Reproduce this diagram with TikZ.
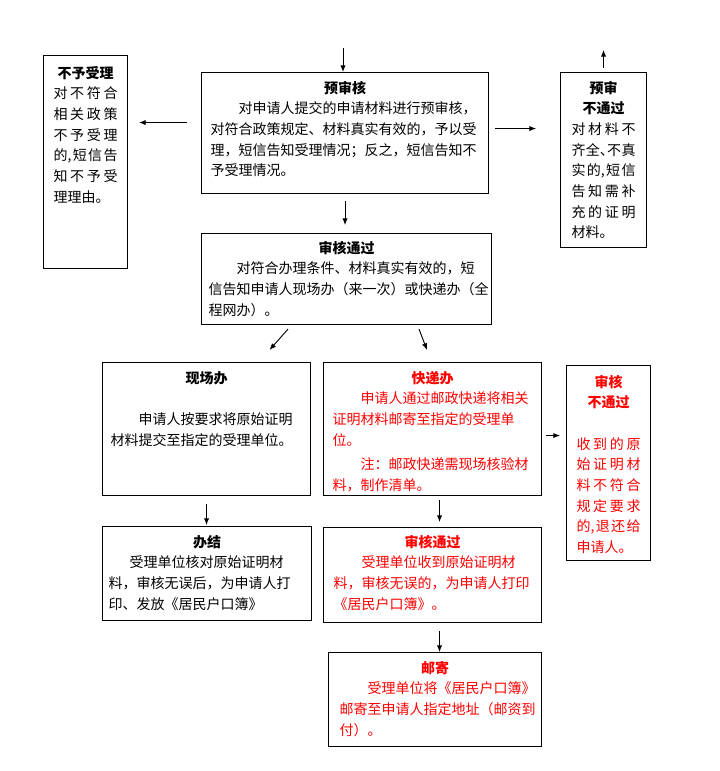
\documentclass[tikz,border=0pt]{standalone}
\usepackage{fontspec}
\setmainfont{Noto Sans CJK SC}
\usetikzlibrary{calc,arrows.meta}
\XeTeXlinebreaklocale "zh"
\XeTeXlinebreakskip=0pt plus 3pt
\XeTeXlinebreakpenalty=10000

\tikzset{
  box/.style={draw, line width=0.8pt, anchor=north west, inner sep=0pt},
  txt/.style={anchor=base, inner sep=0pt, align=justify, font=\fontsize{10.5pt}{15.5pt}\selectfont},
  narrow/.style={txt, text width=48pt, execute at begin node={\XeTeXlinebreakpenalty=0 }},
  arr/.style={-{Latex[length=5pt,width=4pt]}, line width=0.7pt},
}
\newcommand{\boxtitle}[1]{{\centering\bfseries #1\par}}

\begin{document}
\begin{tikzpicture}[x=0.75pt, y=-0.75pt]
  \useasboundingbox (0,0) rectangle (719,771);

  % boxes
  \node[box, minimum width=63pt, minimum height=159.75pt] (nb) at (43,55) {};
  \node[box, minimum width=215.25pt, minimum height=90.75pt] (ys) at (201,72) {};
  \node[box, minimum width=64.5pt, minimum height=131.25pt] (bt) at (560,72) {};
  \node[box, minimum width=217.5pt, minimum height=68.25pt] (sh) at (201,233) {};
  \node[box, minimum width=156pt, minimum height=99.75pt] (xc) at (102,362) {};
  \node[box, minimum width=163.5pt, minimum height=99.75pt] (kd) at (323,362) {};
  \node[box, minimum width=63pt, minimum height=146.25pt] (bn) at (566,365) {};
  \node[box, minimum width=156.75pt, minimum height=70.5pt] (bj) at (102,526) {};
  \node[box, minimum width=163.5pt, minimum height=71.25pt] (tg) at (323,527) {};
  \node[box, minimum width=159.75pt, minimum height=70.5pt] (yj) at (328,652) {};

  % texts
  \node[narrow] (nb-t) at ($(nb.north)+(0,23)$) {\boxtitle{不予受理}\noindent 对不符合\linebreak 相关政策\linebreak 不予受理\linebreak 的,短信告\linebreak 知不予受\linebreak 理理由。};
  \node[txt, text width=201.75pt] (ys-t) at ($(ys.north)+(0,21)$) {\boxtitle{预审核}\noindent\hspace*{2em}对申请人提交的申请材料进行预审核，\\对符合政策规定、材料真实有效的，予以受\\理，短信告知受理情况；反之，短信告知不\\予受理情况。};
  \node[narrow] (bt-t) at ($(bt.north)+(0,21)$) {\boxtitle{预审\\不通过}\noindent 对材料不\linebreak 齐全、\kern-5pt 不真\linebreak 实的,短信\linebreak 告知需补\linebreak 充的证明\linebreak 材料。};
  \node[txt, text width=207pt] (sh-t) at ($(sh.north)+(0,20)$) {\boxtitle{审核通过}\noindent\hspace*{2em}对符合办理条件、材料真实有效的，短\\信告知申请人现场办（来一次）或快递办（全\\程网办）。};
  \node[txt, text width=144pt] (xc-t) at ($(xc.north)+(0,21)$) {\boxtitle{现场办}\vspace{15.5pt}\noindent\hspace*{2em}申请人按要求将原始证明\\材料提交至指定的受理单位。};
  \node[txt, text width=150pt, text=red] (kd-t) at ($(kd.north)+(0,21)$) {\boxtitle{快递办}\noindent\hspace*{2em}申请人通过邮政快递将相关\\证明材料邮寄至指定的受理单\\位。\par\vspace{3pt}\noindent\hspace*{2em}注：邮政快递需现场核验材\\料，制作清单。};
  \node[narrow, text=red] (bn-t) at ($(bn.north)+(0,22)$) {\boxtitle{审核\\不通过}\vspace{15.5pt}\noindent 收到的原\linebreak 始证明材\linebreak 料不符合\linebreak 规定要求\linebreak 的,退还给\linebreak 申请人。};
  \node[txt, text width=147.75pt] (bj-t) at ($(bj.north)+(0,21)$) {\boxtitle{办结}\noindent\hspace*{1.5em}受理单位核对原始证明材\\料，审核无误后，为申请人打\\印、发放《居民户口簿》};
  \node[txt, text width=148.5pt, text=red] (tg-t) at ($(tg.north)+(0,20)$) {\boxtitle{审核通过}\noindent\hspace*{2em}受理单位收到原始证明材\\料，审核无误的，为申请人打印\\《居民户口簿》。};
  \node[txt, text width=143.25pt, text=red] (yj-t) at ($(yj.north)+(0,21)$) {\boxtitle{邮寄}\noindent\hspace*{2em}受理单位将《居民户口簿》\\邮寄至申请人指定地址（邮资到\\付）。};

  % arrows
  \coordinate (in) at (343,48);
  \coordinate (out) at (604,50);
  \coordinate (l1) at ($(ys.west)+(-14,-10.5)$);
  \coordinate (r1) at ($(ys.east)+(6,-4.5)$);
  \coordinate (r2) at ($(kd.east)+(4,6.5)$);
  \coordinate (d1) at ($(kd.south)+(7,4)$);
  \coordinate (d2) at ($(tg.south)+(7,8)$);

  \draw[arr] (in) -- (in |- ys.north);
  \draw[arr, shorten >=8.25pt] (l1) -- (l1 -| nb.east);
  \draw[arr, shorten >=18pt] (r1) -- (r1 -| bt.west);
  \draw[arr, shorten <=3pt] (bt.north) -- (bt.north |- out);
  \draw[arr, shorten <=5.25pt, shorten >=6pt] (ys.south) -- (ys.south |- sh.north);
  \draw[arr] ($(sh.south west)+(87,4)$) -- ($(xc.north)+(63,-12)$);
  \draw[arr] ($(sh.south west)+(218,4)$) -- ($(kd.north west)+(104,-12)$);
  \draw[arr, shorten >=4.5pt] (r2) -- (r2 -| bn.west);
  \draw[arr, shorten <=6pt, shorten >=0.75pt] (xc.south) -- (xc.south |- bj.north);
  \draw[arr, shorten >=3.75pt] (d1) -- (d1 |- tg.north);
  \draw[arr] (d2) -- (d2 |- yj.north);
\end{tikzpicture}
\end{document}
